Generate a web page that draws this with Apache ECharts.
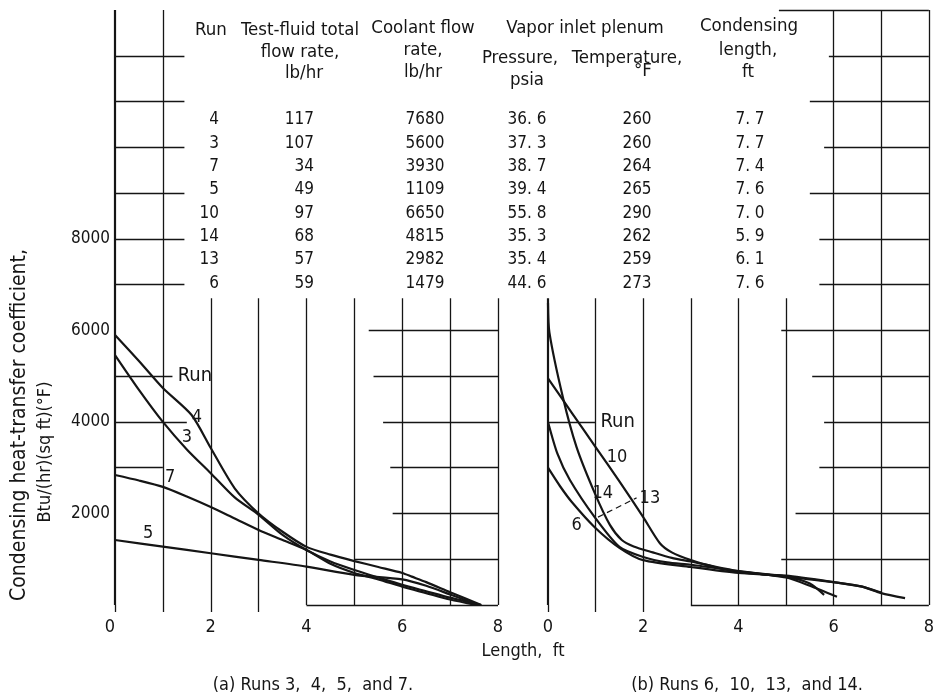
<!DOCTYPE html>
<html><head><meta charset="utf-8">
<script src="https://cdn.jsdelivr.net/npm/echarts@6/dist/echarts.min.js"></script>
<style>html,body{margin:0;padding:0;background:#fff}#c{width:937px;height:698px}</style>
</head><body><div id="c"></div>
<script>
// ---------- data ----------
const xTickLabels = [0, 2, 4, 6, 8];
const yTickLabels = [2000, 4000, 6000, 8000];

// panel (a)
const run4 = [[0,5900],[0.5,5330],[1,4740],[1.6,4150],[2,3430],[2.5,2550],[3,2000],[3.5,1600],[4,1270],[4.5,1100],[5,960],[5.5,830],[6,700],[6.2,620],[6.5,500],[7,280],[7.65,0]];
const run3 = [[0,5460],[0.5,4700],[1,4000],[1.5,3400],[2,2880],[2.5,2350],[3,1970],[3.5,1530],[4,1200],[4.5,950],[5,765],[5.5,600],[6,440],[6.5,300],[7,160],[7.65,0]];
const run7 = [[0,2840],[0.5,2720],[1,2580],[1.5,2370],[2,2140],[2.5,1890],[3,1640],[3.5,1420],[4,1200],[4.5,900],[5,700],[5.5,560],[6,400],[6.5,260],[7,120],[7.55,0]];
const run5 = [[0,1420],[1,1275],[2,1130],[3,985],[4,840],[5,660],[6,560],[6.5,420],[7,230],[7.6,0]];

// panel (b)
const run10 = [[0,4950],[0.5,4200],[1,3450],[1.5,2700],[2,1920],[2.35,1350],[2.6,1150],[3,980],[3.5,830],[4,720],[4.5,670],[5,620],[5.5,560],[6,500],[6.6,400],[7,270]];
const run6  = [[0,3000],[0.25,2600],[0.5,2250],[0.98,1700],[1.5,1250],[2,980],[3,830],[4,700],[5,640],[6,500],[6.6,400],[7,260],[7.5,150]];
const run13 = [[0,4000],[0.2,3300],[0.46,2730],[0.98,1920],[1.5,1270],[2,1050],[2.5,930],[3,880],[4,740],[5,600],[5.5,420],[6.07,180]];
const run14 = [[0,6600],[0.03,5950],[0.31,4550],[0.6,3450],[0.98,2450],[1.3,1750],[1.55,1420],[1.8,1280],[2.2,1150],[2.6,1030],[3,950],[4,740],[5,620],[5.5,470],[5.8,220]];

// table
const tblRun      = [4, 3, 7, 5, 10, 14, 13, 6];
const tblTestFlow = [117, 107, 34, 49, 97, 68, 57, 59];
const tblCoolant  = [7680, 5600, 3930, 1109, 6650, 4815, 2982, 1479];
const tblPressure = [36.6, 37.3, 38.7, 39.4, 55.8, 35.3, 35.4, 44.6];
const tblTemp     = [260, 260, 264, 265, 290, 262, 259, 273];
const tblLength   = [7.7, 7.7, 7.4, 7.6, 7.0, 5.9, 6.1, 7.6];

// curve labels [x, y, text]
const labelsA = [[1.3,5000,'Run'],[1.71,4090,'4'],[1.5,3670,'3'],[1.15,2780,'7'],[0.69,1570,'5']];
const labelsB = [[1.09,4000,'Run'],[1.45,3230,'10'],[1.15,2450,'14'],[2.14,2320,'13'],[0.6,1750,'6']];

// graph-paper segments
const vLinesA = [[0,0,13000],[1,0,13000],[2,0,6700],[3,0,6700],[4,0,6700],[5,0,6700],[6,0,6700],[7,0,6700],[8,0,6700]];
const hLinesA = [[12000,0,1.45],[11000,0,1.45],[10000,0,1.45],[9000,0,1.45],[8000,0,1.45],[7000,0,1.45],
  [6000,5.3,8],[5000,0,1.2],[5000,5.4,8],[4000,0,1.5],[4000,5.6,8],[3000,0,1],[3000,5.75,8],[2000,5.8,8],[1000,5.0,8],[0,4,8]];
const vLinesB = [[0,0,6700],[1,0,6700],[2,0,6700],[3,0,6700],[4,0,6700],[5,0,6700],[6,0,13000],[7,0,13000],[8,0,13000]];
const hLinesB = [[13000,4.85,8],[12000,5.9,8],[11000,5.5,8],[10000,5.8,8],[9000,5.5,8],[8000,5.7,8],[7000,5.7,8],
  [6000,4.9,8],[5000,5.55,8],[4000,0,1],[4000,5.8,8],[3000,5.7,8],[2000,5.2,8],[1000,4.9,8],[0,3,8]];
const leader13 = [[1.05,1920],[1.86,2340]];

// ---------- chart ----------
const FONT = "'DejaVu Sans Condensed','DejaVu Sans',sans-serif";
const INK = '#151515';
const chart = echarts.init(document.getElementById('c'), null, {renderer: 'canvas'});

function segs(v, h) {
  const d = [];
  v.forEach(s => d.push([{coord: [s[0], s[1]], lineStyle: {width: s[0] === 0 ? 2.2 : 1.3}},
                         {coord: [s[0], s[2]]}]));
  h.forEach(s => d.push([{coord: [s[1], s[0]]}, {coord: [s[2], s[0]]}]));
  return d;
}
function paper(idx, v, h) {
  return {
    type: 'line', xAxisIndex: idx, yAxisIndex: idx, data: [], silent: true,
    markLine: {
      silent: true, animation: false, symbol: ['none', 'none'], label: {show: false},
      lineStyle: {type: 'solid', color: INK, width: 1.3}, emphasis: {disabled: true},
      data: segs(v, h)
    }
  };
}
function curve(idx, data) {
  return {type: 'line', xAxisIndex: idx, yAxisIndex: idx, data: data, smooth: 0.25,
    showSymbol: false, silent: true, animation: false,
    lineStyle: {color: INK, width: 2.2}};
}
function labels(idx, data) {
  return {type: 'scatter', xAxisIndex: idx, yAxisIndex: idx, symbolSize: 1,
    data: data.map(d => d[2] === 'Run'
      ? {value: d, label: {position: 'right', distance: 0, fontSize: 20}}
      : {value: d}),
    itemStyle: {color: 'rgba(0,0,0,0)'}, silent: true, animation: false,
    label: {show: true, position: 'inside', formatter: p => p.value[2], color: INK,
      textBorderWidth: 0, opacity: 1, fontFamily: FONT, fontSize: 18}};
}
function xAx(idx) {
  return {type: 'value', gridIndex: idx, min: 0, max: 8, interval: 1,
    axisLine: {show: false}, splitLine: {show: false},
    axisTick: {show: true, customValues: idx === 0 ? [0, 1, 2, 3] : [0, 1, 2], length: 7,
      lineStyle: {color: INK, width: 1.3}},
    axisLabel: {customValues: xTickLabels, margin: 13, color: INK, fontFamily: FONT, fontSize: 18,
      formatter: v => String(v), alignMinLabel: idx === 0 ? 'right' : 'center'}};
}
function yAx(idx) {
  return {type: 'value', gridIndex: idx, min: 0, max: 13000, interval: 1000,
    axisLine: {show: false}, splitLine: {show: false}, axisTick: {show: false},
    axisLabel: {show: idx === 0, customValues: yTickLabels, margin: 5, color: INK,
      fontFamily: FONT, fontSize: 17, formatter: v => String(v)}};
}

// table texts
const g = [];
function txt(t, x, y, align, size, rot) {
  g.push({type: 'text', silent: true, x: x, y: y, rotation: rot || 0,
    style: {text: t, x: 0, y: 0, fill: INK,
      font: (size || 17) + 'px ' + FONT, align: align || 'center', textAlign: align || 'center',
      verticalAlign: 'middle', textVerticalAlign: 'middle'}});
}
const H = 18.5;
txt('Run', 211, 30, 'center', H);
txt('Test-fluid total', 300, 30, 'center', H);
txt('flow rate,', 300, 52, 'center', H);
txt('lb/hr', 304, 73, 'center', H);
txt('Coolant flow', 423, 28, 'center', H);
txt('rate,', 423, 50, 'center', H);
txt('lb/hr', 423, 72, 'center', H);
txt('Vapor inlet plenum', 585, 28, 'center', H);
txt('Pressure,', 520, 58, 'center', H);
txt('Temperature,', 627, 58, 'center', H);
txt('psia', 527, 80, 'center', H);
txt('\u00b0F', 643, 71, 'center', H);
txt('Condensing', 749, 26, 'center', H);
txt('length,', 748, 50, 'center', H);
txt('ft', 748, 72, 'center', H);
const fmt1 = v => v.toFixed(1).replace('.', '. ');
for (let i = 0; i < tblRun.length; i++) {
  const y = 120 + i * 23.3;
  txt(String(tblRun[i]), 219, y, 'right');
  txt(String(tblTestFlow[i]), 314, y, 'right');
  txt(String(tblCoolant[i]), 425, y, 'center');
  txt(fmt1(tblPressure[i]), 527, y, 'center');
  txt(String(tblTemp[i]), 637, y, 'center');
  txt(fmt1(tblLength[i]), 750, y, 'center');
}
// titles
txt('Condensing heat-transfer coefficient,', 20, 425, 'center', 21, Math.PI / 2);
txt('Btu/(hr)(sq ft)(\u00b0F)', 45, 452, 'center', 18, Math.PI / 2);
txt('Length,  ft', 523, 651, 'center', 18);
txt('(a) Runs 3,  4,  5,  and 7.', 313, 685, 'center', 18);
txt('(b) Runs 6,  10,  13,  and 14.', 747, 685, 'center', 18);

const option = {
  backgroundColor: '#fff',
  animation: false,
  grid: [
    {left: 115, top: 10, width: 383, height: 595},
    {left: 548, top: 10, width: 382, height: 595}
  ],
  xAxis: [xAx(0), xAx(1)],
  yAxis: [yAx(0), yAx(1)],
  graphic: g,
  series: [
    paper(0, vLinesA, hLinesA),
    paper(1, vLinesB, hLinesB),
    curve(0, run4), curve(0, run3), curve(0, run7), curve(0, run5),
    curve(1, run10), curve(1, run6), curve(1, run13), curve(1, run14),
    {type: 'line', xAxisIndex: 1, yAxisIndex: 1, data: leader13, showSymbol: false, silent: true,
      animation: false, lineStyle: {color: INK, width: 1.2, type: [6, 4]}},
    labels(0, labelsA),
    labels(1, labelsB)
  ]
};
chart.setOption(option);
</script></body></html>
